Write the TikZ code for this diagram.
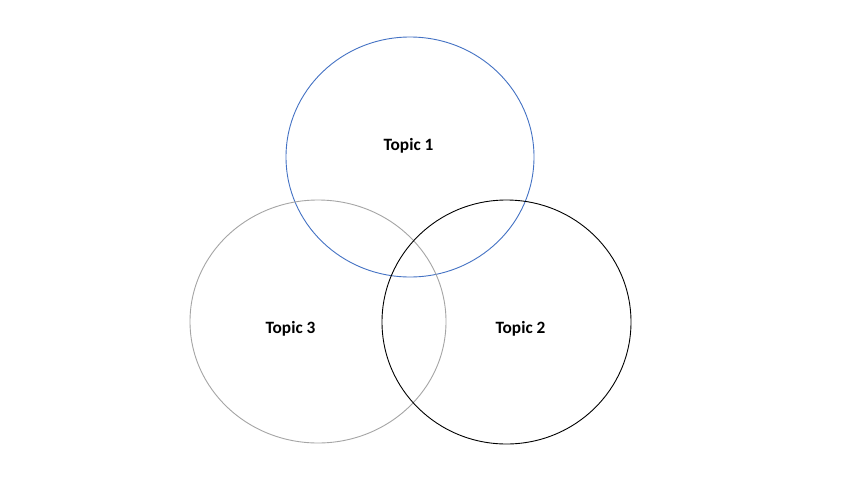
\documentclass[tikz,border=0pt]{standalone}
\usepackage{fontspec}
\setmainfont{Carlito}
\definecolor{topicblue}{RGB}{68,114,196}
\definecolor{topicgray}{RGB}{165,165,165}
\tikzset{
  topiclabel/.style={font=\fontsize{17.3}{20}\selectfont\bfseries, text=black},
  ring/.style={line width=0.9pt}
}
\begin{document}
\begin{tikzpicture}[x=1pt,y=-1pt]
\useasboundingbox[fill=white] (0,0) rectangle (853,480);
\draw[ring, topicblue] (410,157) ellipse [x radius=124, y radius=120];
\draw[ring, topicgray] (318,321.5) ellipse [x radius=128, y radius=121.5];
\draw[ring, black] (506.5,322) ellipse [x radius=124.5, y radius=122];
\node[topiclabel] (t1) at (408.5,146) {Topic 1};
\node[topiclabel] (t3) at (290.5,329) {Topic 3};
\node[topiclabel] (t2) at (520.5,329) {Topic 2};
\end{tikzpicture}
\end{document}
